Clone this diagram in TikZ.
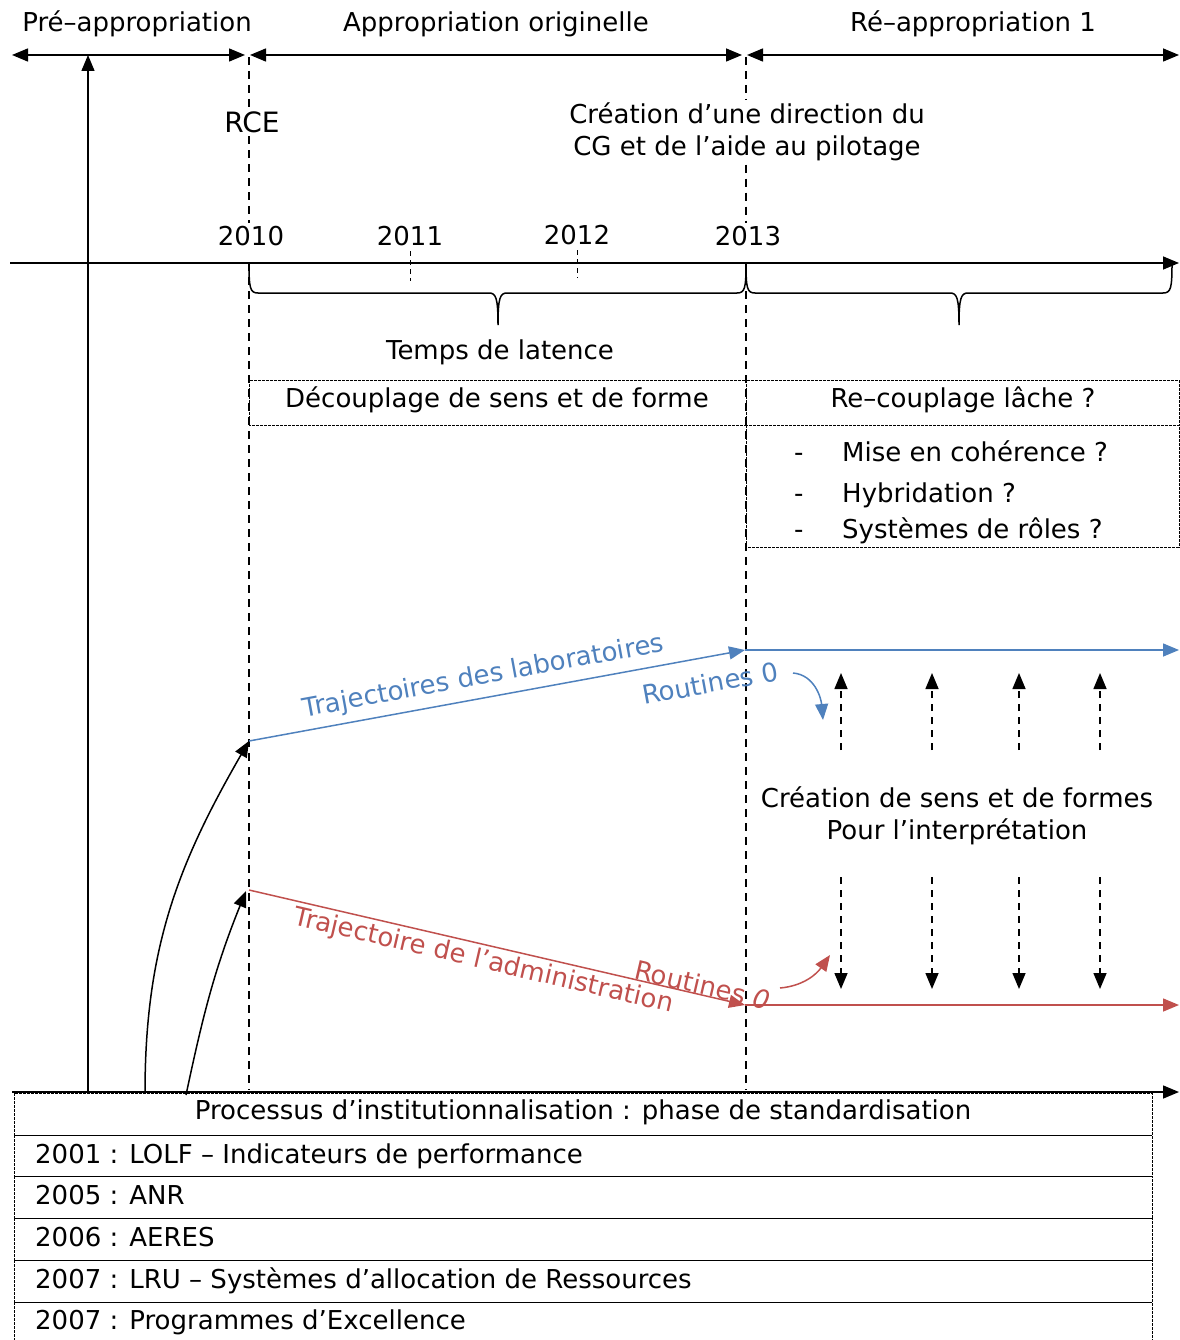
\documentclass[tikz,border=0pt]{standalone}
\usepackage{fontspec}
\setmainfont{DejaVu Sans}
\usetikzlibrary{arrows.meta,positioning}

\definecolor{labblue}{RGB}{79,129,189}
\definecolor{admred}{RGB}{192,80,77}

% hand-made brace between two x positions under the time axis
\newcommand{\wbrace}[3]{%
  \draw[line width=1.5pt] (#1,-263) .. controls (#1,-288) and (#1+1,-293) .. (#1+9,-293)
    -- (#2-9,-293) .. controls (#2-2,-293) and (#2,-298) .. (#2,-325)
    .. controls (#2,-298) and (#2+2,-293) .. (#2+9,-293)
    -- (#3-9,-293) .. controls (#3-1,-293) and (#3,-288) .. (#3,-263);}

\begin{document}
\begin{tikzpicture}[x=1pt,y=1pt,
    font=\fontsize{26}{32}\selectfont,
    arr/.style={-{Triangle[length=16pt,width=13pt]}, line width=1.5pt},
    darr/.style={{Triangle[length=16pt,width=13pt]}-{Triangle[length=16pt,width=13pt]}, line width=1.5pt},
    vdash/.style={line width=1.5pt, dash pattern=on 8pt off 6pt},
    cell/.style={line width=1pt, dash pattern=on 3pt off 1pt},
    item/.style={anchor=base west, inner sep=0pt}
]
\useasboundingbox (0,0) rectangle (1179,-1340);

% periods
\coordinate (p0) at (12,-55);
\coordinate (p1) at (245,-55);
\coordinate (p2) at (250,-55);
\coordinate (p3) at (742,-55);
\coordinate (p4) at (747,-55);
\coordinate (p5) at (1179,-55);
\draw[darr] (p0) -- (p1);
\draw[darr] (p2) -- (p3);
\draw[darr] (p4) -- (p5);
\node (pre) at (137,-24) {Pré–appropriation};
\node (orig) at (496,-24) {Appropriation originelle};
\node (reap) at (973,-24) {Ré–appropriation 1};

% events
\node[font=\fontsize{28}{32}\selectfont] (rce) at (252,-122) {RCE};
\node[align=center] (dcg) at (747,-132) {Création d’une direction du\\CG et de l’aide au pilotage};
\node (y2010) at (251,-236) {2010};
\node (y2011) at (410,-236) {2011};
\node (y2012) at (577,-235) {2012};
\node (y2013) at (748,-236) {2013};

% time axes
\coordinate (ax0) at (10,-263);
\coordinate (ax1) at (1179,-263);
\draw[arr] (ax0) -- (ax1);
\coordinate (bx0) at (12,-1092);
\coordinate (bx1) at (1179,-1092);
\draw[arr] (bx0) -- (bx1);
\coordinate (v0) at (88,-1093);
\coordinate (v1) at (88,-55);
\draw[arr] (v0) -- (v1);

% dashed year lines
\coordinate (a0) at (249,-57);
\coordinate (a1) at (249,-263);
\coordinate (a2) at (249,-1090);
\draw[vdash] (a0) -- (rce.north -| a0);
\draw[vdash] (rce.south -| a0) -- (y2010.north -| a0);
\draw[vdash] (a1) -- (a2);
\coordinate (b0) at (746,-57);
\coordinate (b1) at (746,-263);
\coordinate (b2) at (746,-1090);
\draw[vdash] (b0) -- (dcg.north -| b0);
\draw[vdash] (dcg.south -| b0) -- (y2013.north -| b0);
\draw[vdash] (b1) -- (b2);
\draw[line width=1pt, dash pattern=on 5pt off 4pt] (y2011.south) ++(0,-2) -- ++(0,-30);
\draw[line width=1pt, dash pattern=on 5pt off 4pt] (y2012.south) ++(0,-2) -- ++(0,-28);

% braces
\wbrace{249}{498}{746}
\wbrace{746}{959}{1172}
\node (lat) at (500,-352) {Temps de latence};

% coupling boxes
\draw[cell] (249,-380) rectangle (746,-425);
\draw[cell] (746,-380) rectangle (1179,-425);
\draw[cell] (746,-425) rectangle (1179,-547);
\node (decoup) at (497,-400) {Découplage de sens et de forme};
\node (recoup) at (963,-400) {Re–couplage lâche ?};
\foreach \y/\t in {461/Mise en cohérence ?, 502/Hybridation ?, 538/Systèmes de rôles ?} {
  \node[item] at (794,-\y) {-};
  \node[item] at (842,-\y) {\t};
}

% trajectories
\coordinate (labA) at (249,-741);
\coordinate (labB) at (745,-650);
\coordinate (labC) at (1179,-650);
\draw[arr, labblue] (labA) -- node[above, sloped, text=labblue, pos=0.48, yshift=4pt] {Trajectoires des laboratoires}
                                node[below, sloped, text=labblue, pos=0.92, yshift=-12pt] {Routines 0} (labB);
\draw[arr, labblue] (labB) -- (labC);
\coordinate (admA) at (249,-890);
\coordinate (admB) at (745,-1005);
\coordinate (admC) at (1179,-1005);
\draw[arr, admred] (admA) -- node[below, sloped, text=admred, pos=0.48] {Trajectoire de l’administration}
                                node[above, sloped, text=admred, pos=0.91, yshift=-4pt] {Routines \textit{0}} (admB);
\draw[arr, admred] (admB) -- (admC);

% routines feedback
\coordinate (rb0) at (793,-673);
\coordinate (rb1) at (823,-720);
\draw[arr, labblue] (rb0) to[out=-5, in=95] (rb1);
\coordinate (rr0) at (780,-988);
\coordinate (rr1) at (830,-955);
\draw[arr, admred] (rr0) to[out=5, in=235] (rr1);

% sense making
\node[align=center] (sens) at (957,-816) {Création de sens et de formes\\Pour l’interprétation};
\foreach \x in {841,932,1019,1100} {
  \coordinate (u\x) at (\x,-750);
  \coordinate (t\x) at (\x,-673);
  \coordinate (d\x) at (\x,-877);
  \coordinate (e\x) at (\x,-989);
  \draw[arr, dash pattern=on 7pt off 6pt] (u\x) -- (t\x);
  \draw[arr, dash pattern=on 7pt off 6pt] (d\x) -- (e\x);
}

% institutional influence
\coordinate (c0) at (145,-1093);
\coordinate (c1) at (186,-1095);
\draw[arr] (c0) to[out=90, in=240] (labA);
\draw[arr] (c1) to[out=78, in=248] (246,-891);

% standardisation table
\foreach \ya/\yb in {1093/1135,1135/1176,1176/1218,1218/1260,1260/1302,1302/1345} {
  \draw[cell] (14,-\ya) rectangle (1152,-\yb);
}
\node (proc) at (583,-1112) {Processus d’institutionnalisation : phase de standardisation};
\node[item] (lolf) at (35,-1163) {2001 : LOLF – Indicateurs de performance};
\node[item] (anr) at (35,-1204) {2005 : ANR};
\node[item] (aeres) at (35,-1246) {2006 : AERES};
\node[item] (lru) at (35,-1288) {2007 : LRU – Systèmes d’allocation de Ressources};
\node[item] (excel) at (35,-1329) {2007 : Programmes d’Excellence};
\end{tikzpicture}
\end{document}
